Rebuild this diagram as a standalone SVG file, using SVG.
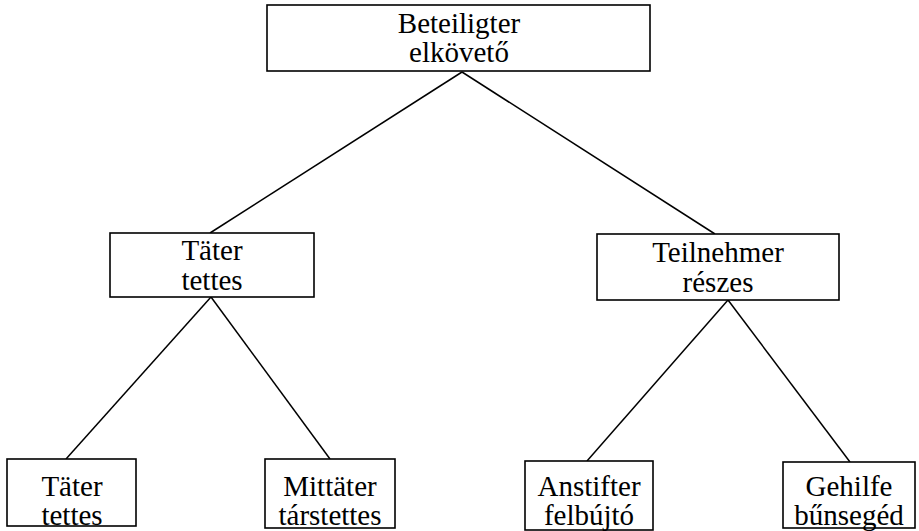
<svg xmlns="http://www.w3.org/2000/svg" width="919" height="531" viewBox="0 0 919 531">
<style>
.box{fill:#fff;stroke:#000;stroke-width:1.6}
.lbl{font-family:"Liberation Serif","Times New Roman",serif;font-size:29px;fill:#000;text-anchor:middle}
.edge{stroke:#000;stroke-width:1.5;fill:none}
</style>
<rect width="919" height="531" fill="#fff"/>
<g id="connectors">
<line class="edge" x1="462" y1="72" x2="210" y2="233"/>
<line class="edge" x1="462" y1="72" x2="715" y2="234"/>
<line class="edge" x1="211" y1="297" x2="66" y2="459"/>
<line class="edge" x1="211" y1="297" x2="330" y2="459"/>
<line class="edge" x1="728" y1="300" x2="587" y2="461"/>
<line class="edge" x1="728" y1="300" x2="850" y2="462"/>
</g>
<g id="n-root">
<rect class="box" x="267" y="5" width="383" height="66"/>
<text class="lbl" x="459" y="33">Beteiligter</text>
<text class="lbl" x="459" y="62">elkövető</text>
</g>
<g id="n-tater">
<rect class="box" x="110" y="233" width="204" height="64"/>
<text class="lbl" x="212" y="260">Täter</text>
<text class="lbl" x="212" y="290">tettes</text>
</g>
<g id="n-teilnehmer">
<rect class="box" x="597" y="234" width="242" height="66"/>
<text class="lbl" x="718" y="262">Teilnehmer</text>
<text class="lbl" x="718" y="292">részes</text>
</g>
<g id="n-tater2">
<rect class="box" x="7" y="459" width="129" height="67"/>
<text class="lbl" x="72" y="496">Täter</text>
<text class="lbl" x="72" y="525">tettes</text>
</g>
<g id="n-mittater">
<rect class="box" x="265" y="459" width="130" height="69"/>
<text class="lbl" x="330" y="496">Mittäter</text>
<text class="lbl" x="330" y="525">társtettes</text>
</g>
<g id="n-anstifter">
<rect class="box" x="525" y="461" width="128" height="69"/>
<text class="lbl" x="589" y="496">Anstifter</text>
<text class="lbl" x="589" y="525">felbújtó</text>
</g>
<g id="n-gehilfe">
<rect class="box" x="783" y="462" width="132" height="66"/>
<text class="lbl" x="849" y="496">Gehilfe</text>
<text class="lbl" x="849" y="525">bűnsegéd</text>
</g>
</svg>
